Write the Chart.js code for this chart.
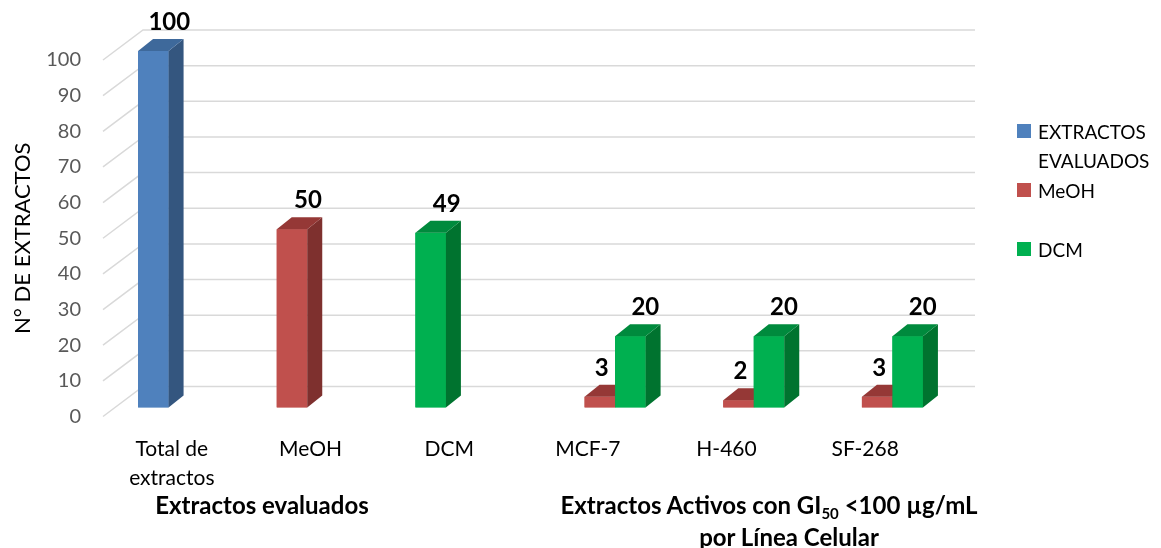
<!DOCTYPE html>
<html>
<head>
<meta charset="utf-8">
<script src="https://cdn.jsdelivr.net/npm/chart.js@4.4.1/dist/chart.umd.min.js"></script>
<style>
  html, body { margin: 0; padding: 0; background: #fff; }
  #wrap { position: relative; width: 1161px; height: 548px; font-family: Lato, sans-serif; color: #000; }
  #chart { position: absolute; left: 0; top: 0; }
  #legend { position: absolute; left: 1017px; top: 116.5px; width: 144px; }
  .item { position: relative; height: 59px; font-size: 19px; line-height: 29px; }
  .item .box { position: absolute; left: 0; top: 7.5px; width: 14px; height: 14px; }
  .item .txt { position: absolute; left: 21px; top: 0; width: 130px; }
  .group { position: absolute; top: 489px; width: 440px; text-align: center; font-weight: bold; font-size: 24px; line-height: 32px; }
  .group sub { font-size: 15px; line-height: 0; vertical-align: -5px; }
</style>
</head>
<body>
<div id="wrap">
  <canvas id="chart" width="1161" height="548"></canvas>
  <div id="legend"></div>
  <div class="group" style="left:42px;">Extractos evaluados</div>
  <div class="group" style="left:549px;">Extractos Activos con GI<sub>50</sub> &lt;100 µg/mL<br><span style="padding-left:40px;">por Línea Celular</span></div>
</div>
<script>
// data
const categories = [["Total de", "extractos"], "MeOH", "DCM", "MCF-7", "H-460", "SF-268"];
const seriesNames = ["EXTRACTOS EVALUADOS", "MeOH", "DCM"];
const evaluados = [100, 50, 49, null, null, null];
const meoh = [null, null, null, 3, 2, 3];
const dcm = [null, null, null, 20, 20, 20];
const yTicks = [0, 10, 20, 30, 40, 50, 60, 70, 80, 90, 100];
const yTitle = "N° DE EXTRACTOS";

const blue = "#4F81BD", red = "#C0504D", green = "#00B050";
// darker faces for the fake 3d look
const faces = {};
faces[blue] = { side: "#34567F", top: "#3E699B" };
faces[red] = { side: "#7E302E", top: "#953836" };
faces[green] = { side: "#00732F", top: "#008A3D" };
const legendColors = [blue, red, green];
const labelShift = [16, 2, 15];

const depthX = 15, depthY = -12;

Chart.defaults.font.family = "Lato";

const wallPlugin = {
  id: "wall",
  beforeDatasetsDraw(chart) {
    const ctx = chart.ctx;
    const y = chart.scales.y;
    const area = chart.chartArea;
    ctx.save();
    ctx.strokeStyle = "#D9D9D9";
    ctx.lineWidth = 1.5;
    yTicks.forEach(v => {
      const py = y.getPixelForValue(v);
      ctx.beginPath();
      ctx.moveTo(area.left - 11.5, py + 9);
      ctx.lineTo(area.left + 28.5, py - 21);
      ctx.lineTo(area.right + 28.5, py - 21);
      ctx.stroke();
    });
    // axis title, centred on the tick labels
    const mid = (y.getPixelForValue(0) + y.getPixelForValue(100)) / 2 + 9;
    ctx.translate(23, mid);
    ctx.rotate(-Math.PI / 2);
    ctx.fillStyle = "#000";
    ctx.font = "22px Lato";
    ctx.textAlign = "center";
    ctx.textBaseline = "middle";
    ctx.fillText(yTitle, 0, 0);
    ctx.restore();
  }
};

const barsPlugin = {
  id: "bars3d",
  afterDatasetsDraw(chart) {
    const ctx = chart.ctx;
    const sets = chart.data.datasets;
    ctx.save();
    for (let i = 0; i < categories.length; i++) {
      for (let d = 0; d < sets.length; d++) {
        if (sets[d].data[i] == null) continue;
        const el = chart.getDatasetMeta(d).data[i];
        const p = el.getProps(["x", "y", "base", "width"], true);
        const l = p.x - p.width / 2, r = p.x + p.width / 2;
        const col = el.options.backgroundColor;
        ctx.fillStyle = col;
        ctx.fillRect(l, p.y, p.width, p.base - p.y);
        ctx.fillStyle = faces[col].side;
        ctx.beginPath();
        ctx.moveTo(r, p.y);
        ctx.lineTo(r + depthX, p.y + depthY);
        ctx.lineTo(r + depthX, p.base + depthY);
        ctx.lineTo(r, p.base);
        ctx.closePath();
        ctx.fill();
        ctx.fillStyle = faces[col].top;
        ctx.beginPath();
        ctx.moveTo(l, p.y);
        ctx.lineTo(l + depthX, p.y + depthY);
        ctx.lineTo(r + depthX, p.y + depthY);
        ctx.lineTo(r, p.y);
        ctx.closePath();
        ctx.fill();
      }
    }
    // value labels
    ctx.fillStyle = "#000";
    ctx.font = "bold 24px Lato";
    ctx.textAlign = "center";
    ctx.textBaseline = "middle";
    sets.forEach((ds, d) => {
      chart.getDatasetMeta(d).data.forEach((el, i) => {
        if (ds.data[i] == null) return;
        ctx.fillText(ds.data[i], el.x + labelShift[d], el.y - 29);
      });
    });
    ctx.restore();
  }
};

const chart = new Chart(document.getElementById("chart"), {
  type: "bar",
  data: {
    labels: categories,
    datasets: [
      { label: seriesNames[0], data: evaluados, backgroundColor: [blue, red, green, blue, blue, blue] },
      { label: seriesNames[1], data: meoh, backgroundColor: red },
      { label: seriesNames[2], data: dcm, backgroundColor: green }
    ]
  },
  options: {
    responsive: false,
    animation: false,
    devicePixelRatio: 1,
    datasets: { bar: { categoryPercentage: 0.66, barPercentage: 1 } },
    layout: { padding: { top: 51, right: 214.5, left: 0, bottom: 0 } },
    plugins: { legend: { display: false }, tooltip: { enabled: false } },
    scales: {
      x: {
        grid: { display: false, drawTicks: false },
        border: { display: false },
        ticks: { color: "#000", font: { size: 21, lineHeight: 1.4 }, padding: 27, labelOffset: -12, maxRotation: 0, autoSkip: false },
        afterFit: s => { s.height = 140.5; }
      },
      y: {
        min: 0,
        max: 100,
        grid: { display: false, drawTicks: false },
        border: { display: false },
        afterBuildTicks: s => { s.ticks = yTicks.map(v => ({ value: v })); },
        ticks: { color: "#595959", font: { size: 20 }, padding: 33.5, labelOffset: 9 },
        afterFit: s => { s.width = 114.5; }
      }
    }
  },
  plugins: [wallPlugin, barsPlugin]
});

// legend built from the datasets
const legend = document.getElementById("legend");
chart.data.datasets.forEach((ds, d) => {
  const item = document.createElement("div");
  item.className = "item";
  item.innerHTML = '<span class="box" style="background:' + legendColors[d] + '"></span><span class="txt">' + ds.label + '</span>';
  legend.appendChild(item);
});
</script>
</body>
</html>
